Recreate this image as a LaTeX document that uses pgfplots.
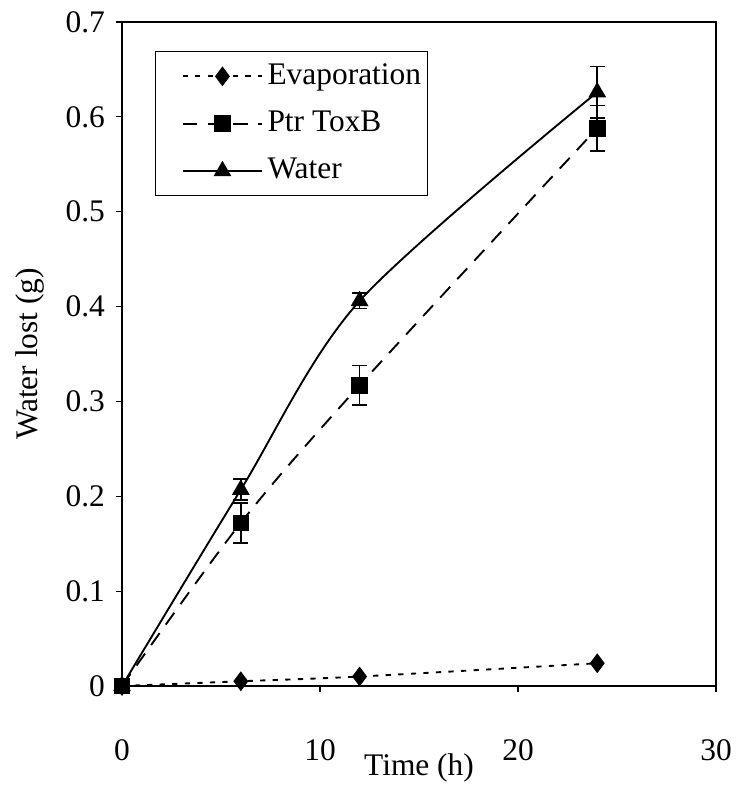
\documentclass[border=0pt]{standalone}
\usepackage{fontspec}
\setmainfont{Liberation Serif}
\usepackage{pgfplots}
\pgfplotsset{compat=1.18}
\begin{document}
\fontsize{15}{18}\selectfont
\begin{tikzpicture}
\useasboundingbox (-58.24pt,-47.26pt) rectangle (292.65pt,327.5pt);
\begin{axis}[
  at={(0,0)}, anchor=south west,
  scale only axis, width=283.6pt, height=317pt,
  xmin=0, xmax=30, ymin=0, ymax=0.7,
  xtick={0,10,20,30},
  ytick={0,0.1,0.2,0.3,0.4,0.5,0.6,0.7},
  yticklabels={0,0.1,0.2,0.3,0.4,0.5,0.6,0.7},
  xtick pos=bottom, ytick pos=left,
  tick align=outside, major tick length=3pt,
  tick style={black, line width=0.6pt},
  axis line style={line width=0.8pt},
  /pgf/number format/assume math mode=true,
  tick label style={font=\fontsize{15}{18}\selectfont},
  xticklabel style={anchor=center, yshift=-19pt},
  xticklabel shift=8.6pt,
  xlabel={Time (h)},
  ylabel={Water lost (g)},
  xlabel style={at={(axis description cs:0.5,-0.1234)}, anchor=center, font=\fontsize{15}{18}\selectfont},
  ylabel style={at={(axis description cs:-0.1548,0.5)}, anchor=center, rotate=0, font=\fontsize{15}{18}\selectfont},
  legend style={at={(0.0556,0.956)}, anchor=north west, draw=black, line width=0.6pt,
    font=\fontsize{15}{18}\selectfont, row sep=6.5pt, inner xsep=1pt, inner ysep=3.6pt},
  legend cell align=left,
  legend image code/.code={\path (0cm,0cm); \draw[mark repeat=2,mark phase=2,#1] plot coordinates {(0.4cm,0cm) (1.07cm,0cm) (1.74cm,0cm)};},
  every axis plot/.append style={line width=0.9pt, black},
]
\addplot[smooth, dash pattern=on 2.5pt off 3.5pt, mark=diamond*, mark size=4pt,
  mark options={solid, fill=black}]
  coordinates {(0,0) (6,0.005) (12,0.010) (24,0.024)};
\addlegendentry{Evaporation}
\addplot[smooth, dash pattern=on 7pt off 5pt, mark=square*, mark size=3.5pt,
  mark options={solid, fill=black},
  error bars/.cd, y dir=both, y explicit,
  error bar style={solid, line width=0.8pt},
  error mark options={rotate=90, mark size=3.5pt, line width=0.8pt, solid}]
  table[x=x, y=y, y error=e] {
x y e
0 0 0
6 0.172 0.021
12 0.317 0.021
24 0.588 0.024
};
\addlegendentry{Ptr ToxB}
\addplot[smooth, solid, mark=triangle*, mark size=4pt,
  mark options={solid, fill=black},
  error bars/.cd, y dir=both, y explicit,
  error bar style={solid, line width=0.8pt},
  error mark options={rotate=90, mark size=3.5pt, line width=0.8pt, solid}]
  table[x=x, y=y, y error=e] {
x y e
0 0 0
6 0.207 0.011
12 0.406 0.008
24 0.626 0.027
};
\addlegendentry{Water}
\end{axis}
\end{tikzpicture}
\end{document}
